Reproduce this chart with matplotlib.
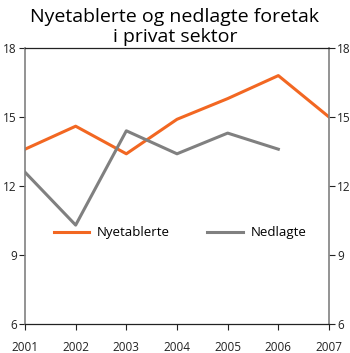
import matplotlib
matplotlib.use("Agg")
import matplotlib.pyplot as plt

years = [2001, 2002, 2003, 2004, 2005, 2006, 2007]
nyetablerte = [13.6, 14.6, 13.4, 14.9, 15.8, 16.8, 15.0]
nedlagte_years = [2001, 2002, 2003, 2004, 2005, 2006]
nedlagte = [12.6, 10.3, 14.4, 13.4, 14.3, 13.6]
yticks = [6, 9, 12, 15, 18]

plt.rcParams['font.family'] = ['Open Sans', 'DejaVu Sans']

fig = plt.figure(figsize=(3.5, 3.53), dpi=100)
ax = fig.add_axes([25 / 350, 29 / 353, 304 / 350, 276 / 353])

ax.plot(years, nyetablerte, color='#f26722', lw=2.2, label='Nyetablerte')
ax.plot(nedlagte_years, nedlagte, color='#808080', lw=2.2, label='Nedlagte')

ax.set_xlim(2001, 2007)
ax.set_ylim(6, 18)
ax.set_yticks(yticks)
ax.set_xticks(years)
ax.tick_params(axis='both', labelsize=8.5, colors='#222222', length=4, width=0.8)
ax.tick_params(axis='x', pad=8)
ax.tick_params(axis='y', pad=2, right=True, labelright=True)

for side in ['left', 'right']:
    ax.spines[side].set_color('#808080')
    ax.spines[side].set_linewidth(1.2)
for side in ['top', 'bottom']:
    ax.spines[side].set_color('#222222')
    ax.spines[side].set_linewidth(0.9)

ax.legend(loc='center', bbox_to_anchor=(0.51, 0.33), ncol=2, frameon=False,
          fontsize=9.5, handlelength=2.7, columnspacing=2.8, handletextpad=0.6)

fig.suptitle('Nyetablerte og nedlagte foretak\ni privat sektor', fontsize=14,
             y=0.978, linespacing=1.15)

fig.savefig('out.png', dpi=100)
